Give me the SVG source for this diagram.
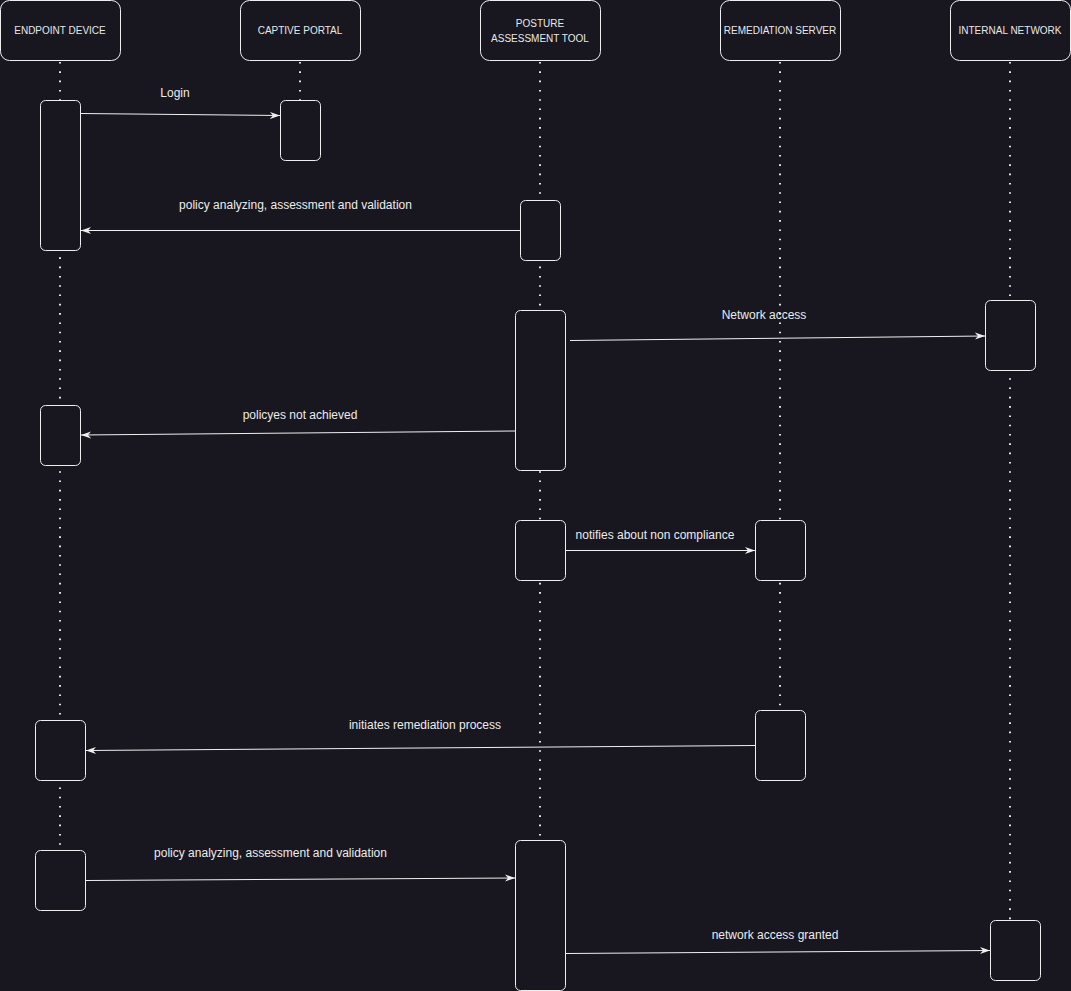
<svg xmlns="http://www.w3.org/2000/svg" width="1071" height="991" viewBox="0 0 1071 991">
<style>
.bg{fill:#18161e}
.hdr{fill:#18161e;stroke:#eeeeee;stroke-width:1}
.act{fill:#18161e;stroke:#eeeeee;stroke-width:1}
.life{stroke:#e6e6e6;stroke-width:2;stroke-dasharray:1.6 7.7;fill:none}
.ht{font-family:"Liberation Sans",Arial,sans-serif;font-size:10px;fill:#e8e8e8;text-anchor:middle}
.lbl{font-family:"Liberation Sans",Arial,sans-serif;font-size:12px;fill:#ececec;text-anchor:middle}
.msg{stroke:#f0f0f0;stroke-width:1;fill:none;marker-end:url(#arr)}
</style>
<defs>
<marker id="arr" markerUnits="userSpaceOnUse" markerWidth="10" markerHeight="8" viewBox="0 0 10 8" refX="10" refY="4" orient="auto">
<path d="M0,0.5 L10,4 L0,7.5 L3,4 Z" fill="#f0f0f0"/>
</marker>
</defs>
<rect class="bg" x="0" y="0" width="1071" height="991"/>

<g id="lifelines">
<line class="life" x1="60" y1="62" x2="60" y2="850"/>
<line class="life" x1="300" y1="62" x2="300" y2="100"/>
<line class="life" x1="540" y1="62" x2="540" y2="840"/>
<line class="life" x1="780" y1="62" x2="780" y2="710"/>
<line class="life" x1="1010" y1="62" x2="1010" y2="920"/>
</g>

<g id="endpoint-device">
<rect class="hdr" x="0.5" y="0.5" width="120" height="60" rx="9"/>
<text class="ht" x="60" y="34">ENDPOINT DEVICE</text>
</g>
<g id="captive-portal">
<rect class="hdr" x="240.5" y="0.5" width="120" height="60" rx="9"/>
<text class="ht" x="300" y="34">CAPTIVE PORTAL</text>
</g>
<g id="posture-assessment-tool">
<rect class="hdr" x="480.5" y="0.5" width="120" height="60" rx="9"/>
<text class="ht" x="540" y="27">POSTURE</text>
<text class="ht" x="540" y="42">ASSESSMENT TOOL</text>
</g>
<g id="remediation-server">
<rect class="hdr" x="720.5" y="0.5" width="120" height="60" rx="9"/>
<text class="ht" x="780" y="34">REMEDIATION SERVER</text>
</g>
<g id="internal-network">
<rect class="hdr" x="950.5" y="0.5" width="120" height="60" rx="9"/>
<text class="ht" x="1010" y="34">INTERNAL NETWORK</text>
</g>

<g id="act-endpoint-1"><rect class="act" x="40.5" y="100.5" width="40" height="150" rx="5"/></g>
<g id="act-endpoint-2"><rect class="act" x="40.5" y="405.5" width="40" height="60" rx="5"/></g>
<g id="act-endpoint-3"><rect class="act" x="35.5" y="720.5" width="50" height="60" rx="5"/></g>
<g id="act-endpoint-4"><rect class="act" x="35.5" y="850.5" width="50" height="60" rx="5"/></g>
<g id="act-portal-1"><rect class="act" x="280.5" y="100.5" width="40" height="60" rx="5"/></g>
<g id="act-posture-1"><rect class="act" x="520.5" y="200.5" width="40" height="60" rx="5"/></g>
<g id="act-posture-2"><rect class="act" x="515.5" y="310.5" width="50" height="160" rx="5"/></g>
<g id="act-posture-3"><rect class="act" x="515.5" y="520.5" width="50" height="60" rx="5"/></g>
<g id="act-posture-4"><rect class="act" x="515.5" y="840.5" width="50" height="150" rx="5"/></g>
<g id="act-remediation-1"><rect class="act" x="755.5" y="520.5" width="50" height="60" rx="5"/></g>
<g id="act-remediation-2"><rect class="act" x="755.5" y="710.5" width="50" height="70" rx="5"/></g>
<g id="act-internal-1"><rect class="act" x="985.5" y="300.5" width="50" height="70" rx="5"/></g>
<g id="act-internal-2"><rect class="act" x="990.5" y="920.5" width="50" height="60" rx="5"/></g>

<g id="connectors">
<line class="msg" x1="81" y1="113.5" x2="280" y2="115.5"/>
<text class="lbl" x="175" y="97">Login</text>

<line class="msg" x1="520" y1="230.5" x2="81" y2="230.5"/>
<text class="lbl" x="295.5" y="209">policy analyzing, assessment and validation</text>

<line class="msg" x1="570" y1="340.5" x2="985" y2="336"/>
<text class="lbl" x="764" y="319">Network access</text>

<line class="msg" x1="515" y1="431" x2="81" y2="435"/>
<text class="lbl" x="300" y="419">policyes not achieved</text>

<line class="msg" x1="566" y1="550.5" x2="755" y2="550.5"/>
<text class="lbl" x="655" y="539">notifies about non compliance</text>

<line class="msg" x1="755" y1="745.5" x2="86" y2="750.5"/>
<text class="lbl" x="425" y="729">initiates remediation process</text>

<line class="msg" x1="86" y1="880.5" x2="515" y2="878"/>
<text class="lbl" x="270.5" y="857">policy analyzing, assessment and validation</text>

<line class="msg" x1="566" y1="953.5" x2="990" y2="950.5"/>
<text class="lbl" x="775" y="939">network access granted</text>
</g>
</svg>
